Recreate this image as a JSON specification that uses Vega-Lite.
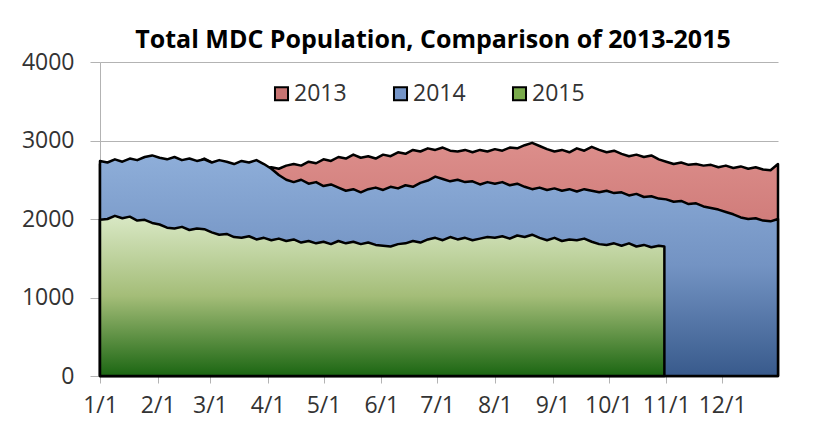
{
  "$schema": "https://vega.github.io/schema/vega-lite/v6.json",
  "width": 678,
  "height": 314,
  "autosize": {"type": "none"},
  "padding": {"left": 100, "top": 62, "right": 44, "bottom": 49},
  "background": "white",
  "title": {"text": "Total MDC Population, Comparison of 2013-2015", "font": "Open Sans", "fontSize": 25, "fontWeight": "bold", "color": "#000000", "anchor": "middle", "offset": -2, "dx": -6},
  "datasets": {
    "pop": [
      {"series":"2013","day":1,"value":2700},{"series":"2013","day":5,"value":2680},{"series":"2013","day":9,"value":2720},{"series":"2013","day":13,"value":2690},{"series":"2013","day":17,"value":2720},{"series":"2013","day":21,"value":2700},{"series":"2013","day":25,"value":2740},{"series":"2013","day":29,"value":2760},{"series":"2013","day":33,"value":2730},{"series":"2013","day":37,"value":2710},{"series":"2013","day":41,"value":2740},{"series":"2013","day":45,"value":2700},{"series":"2013","day":49,"value":2730},{"series":"2013","day":53,"value":2720},{"series":"2013","day":57,"value":2770},{"series":"2013","day":61,"value":2720},{"series":"2013","day":65,"value":2700},{"series":"2013","day":69,"value":2690},{"series":"2013","day":73,"value":2660},{"series":"2013","day":77,"value":2700},{"series":"2013","day":81,"value":2680},{"series":"2013","day":85,"value":2700},{"series":"2013","day":89,"value":2650},{"series":"2013","day":93,"value":2660},{"series":"2013","day":97,"value":2640},{"series":"2013","day":101,"value":2680},{"series":"2013","day":105,"value":2700},{"series":"2013","day":109,"value":2680},{"series":"2013","day":113,"value":2730},{"series":"2013","day":117,"value":2710},{"series":"2013","day":121,"value":2760},{"series":"2013","day":125,"value":2740},{"series":"2013","day":129,"value":2790},{"series":"2013","day":133,"value":2770},{"series":"2013","day":137,"value":2820},{"series":"2013","day":141,"value":2780},{"series":"2013","day":145,"value":2800},{"series":"2013","day":149,"value":2770},{"series":"2013","day":153,"value":2820},{"series":"2013","day":157,"value":2800},{"series":"2013","day":161,"value":2850},{"series":"2013","day":165,"value":2830},{"series":"2013","day":169,"value":2880},{"series":"2013","day":173,"value":2860},{"series":"2013","day":177,"value":2900},{"series":"2013","day":181,"value":2880},{"series":"2013","day":185,"value":2910},{"series":"2013","day":189,"value":2870},{"series":"2013","day":193,"value":2860},{"series":"2013","day":197,"value":2880},{"series":"2013","day":201,"value":2850},{"series":"2013","day":205,"value":2880},{"series":"2013","day":209,"value":2860},{"series":"2013","day":213,"value":2890},{"series":"2013","day":217,"value":2870},{"series":"2013","day":221,"value":2910},{"series":"2013","day":225,"value":2900},{"series":"2013","day":229,"value":2940},{"series":"2013","day":233,"value":2970},{"series":"2013","day":237,"value":2930},{"series":"2013","day":241,"value":2890},{"series":"2013","day":245,"value":2860},{"series":"2013","day":249,"value":2880},{"series":"2013","day":253,"value":2850},{"series":"2013","day":257,"value":2900},{"series":"2013","day":261,"value":2870},{"series":"2013","day":265,"value":2920},{"series":"2013","day":269,"value":2880},{"series":"2013","day":273,"value":2850},{"series":"2013","day":277,"value":2870},{"series":"2013","day":281,"value":2830},{"series":"2013","day":285,"value":2800},{"series":"2013","day":289,"value":2820},{"series":"2013","day":293,"value":2790},{"series":"2013","day":297,"value":2810},{"series":"2013","day":301,"value":2760},{"series":"2013","day":305,"value":2730},{"series":"2013","day":309,"value":2700},{"series":"2013","day":313,"value":2720},{"series":"2013","day":317,"value":2690},{"series":"2013","day":321,"value":2700},{"series":"2013","day":325,"value":2680},{"series":"2013","day":329,"value":2690},{"series":"2013","day":333,"value":2660},{"series":"2013","day":337,"value":2680},{"series":"2013","day":341,"value":2650},{"series":"2013","day":345,"value":2670},{"series":"2013","day":349,"value":2640},{"series":"2013","day":353,"value":2660},{"series":"2013","day":357,"value":2630},{"series":"2013","day":361,"value":2620},{"series":"2013","day":365,"value":2700},
      {"series":"2014","day":1,"value":2740},{"series":"2014","day":5,"value":2720},{"series":"2014","day":9,"value":2760},{"series":"2014","day":13,"value":2730},{"series":"2014","day":17,"value":2770},{"series":"2014","day":21,"value":2750},{"series":"2014","day":25,"value":2790},{"series":"2014","day":29,"value":2810},{"series":"2014","day":33,"value":2780},{"series":"2014","day":37,"value":2760},{"series":"2014","day":41,"value":2790},{"series":"2014","day":45,"value":2750},{"series":"2014","day":49,"value":2770},{"series":"2014","day":53,"value":2740},{"series":"2014","day":57,"value":2760},{"series":"2014","day":61,"value":2720},{"series":"2014","day":65,"value":2750},{"series":"2014","day":69,"value":2730},{"series":"2014","day":73,"value":2700},{"series":"2014","day":77,"value":2740},{"series":"2014","day":81,"value":2720},{"series":"2014","day":85,"value":2750},{"series":"2014","day":89,"value":2700},{"series":"2014","day":93,"value":2640},{"series":"2014","day":97,"value":2560},{"series":"2014","day":101,"value":2500},{"series":"2014","day":105,"value":2470},{"series":"2014","day":109,"value":2500},{"series":"2014","day":113,"value":2450},{"series":"2014","day":117,"value":2470},{"series":"2014","day":121,"value":2420},{"series":"2014","day":125,"value":2440},{"series":"2014","day":129,"value":2400},{"series":"2014","day":133,"value":2360},{"series":"2014","day":137,"value":2380},{"series":"2014","day":141,"value":2340},{"series":"2014","day":145,"value":2380},{"series":"2014","day":149,"value":2400},{"series":"2014","day":153,"value":2370},{"series":"2014","day":157,"value":2410},{"series":"2014","day":161,"value":2390},{"series":"2014","day":165,"value":2430},{"series":"2014","day":169,"value":2410},{"series":"2014","day":173,"value":2460},{"series":"2014","day":177,"value":2490},{"series":"2014","day":181,"value":2540},{"series":"2014","day":185,"value":2510},{"series":"2014","day":189,"value":2480},{"series":"2014","day":193,"value":2500},{"series":"2014","day":197,"value":2470},{"series":"2014","day":201,"value":2480},{"series":"2014","day":205,"value":2440},{"series":"2014","day":209,"value":2470},{"series":"2014","day":213,"value":2450},{"series":"2014","day":217,"value":2470},{"series":"2014","day":221,"value":2430},{"series":"2014","day":225,"value":2450},{"series":"2014","day":229,"value":2410},{"series":"2014","day":233,"value":2380},{"series":"2014","day":237,"value":2400},{"series":"2014","day":241,"value":2370},{"series":"2014","day":245,"value":2390},{"series":"2014","day":249,"value":2360},{"series":"2014","day":253,"value":2380},{"series":"2014","day":257,"value":2350},{"series":"2014","day":261,"value":2380},{"series":"2014","day":265,"value":2360},{"series":"2014","day":269,"value":2340},{"series":"2014","day":273,"value":2360},{"series":"2014","day":277,"value":2330},{"series":"2014","day":281,"value":2340},{"series":"2014","day":285,"value":2300},{"series":"2014","day":289,"value":2320},{"series":"2014","day":293,"value":2280},{"series":"2014","day":297,"value":2290},{"series":"2014","day":301,"value":2260},{"series":"2014","day":305,"value":2250},{"series":"2014","day":309,"value":2220},{"series":"2014","day":313,"value":2230},{"series":"2014","day":317,"value":2190},{"series":"2014","day":321,"value":2200},{"series":"2014","day":325,"value":2160},{"series":"2014","day":329,"value":2140},{"series":"2014","day":333,"value":2120},{"series":"2014","day":337,"value":2090},{"series":"2014","day":341,"value":2060},{"series":"2014","day":345,"value":2020},{"series":"2014","day":349,"value":2000},{"series":"2014","day":353,"value":2010},{"series":"2014","day":357,"value":1980},{"series":"2014","day":361,"value":1970},{"series":"2014","day":365,"value":2000},
      {"series":"2015","day":1,"value":1990},{"series":"2015","day":5,"value":2000},{"series":"2015","day":9,"value":2040},{"series":"2015","day":13,"value":2010},{"series":"2015","day":17,"value":2030},{"series":"2015","day":21,"value":1980},{"series":"2015","day":25,"value":1990},{"series":"2015","day":29,"value":1950},{"series":"2015","day":33,"value":1930},{"series":"2015","day":37,"value":1890},{"series":"2015","day":41,"value":1880},{"series":"2015","day":45,"value":1900},{"series":"2015","day":49,"value":1860},{"series":"2015","day":53,"value":1880},{"series":"2015","day":57,"value":1870},{"series":"2015","day":61,"value":1830},{"series":"2015","day":65,"value":1800},{"series":"2015","day":69,"value":1810},{"series":"2015","day":73,"value":1770},{"series":"2015","day":77,"value":1760},{"series":"2015","day":81,"value":1780},{"series":"2015","day":85,"value":1740},{"series":"2015","day":89,"value":1760},{"series":"2015","day":93,"value":1730},{"series":"2015","day":97,"value":1750},{"series":"2015","day":101,"value":1720},{"series":"2015","day":105,"value":1740},{"series":"2015","day":109,"value":1700},{"series":"2015","day":113,"value":1720},{"series":"2015","day":117,"value":1690},{"series":"2015","day":121,"value":1710},{"series":"2015","day":125,"value":1680},{"series":"2015","day":129,"value":1720},{"series":"2015","day":133,"value":1690},{"series":"2015","day":137,"value":1710},{"series":"2015","day":141,"value":1680},{"series":"2015","day":145,"value":1700},{"series":"2015","day":149,"value":1670},{"series":"2015","day":153,"value":1660},{"series":"2015","day":157,"value":1650},{"series":"2015","day":161,"value":1680},{"series":"2015","day":165,"value":1690},{"series":"2015","day":169,"value":1720},{"series":"2015","day":173,"value":1700},{"series":"2015","day":177,"value":1740},{"series":"2015","day":181,"value":1760},{"series":"2015","day":185,"value":1730},{"series":"2015","day":189,"value":1770},{"series":"2015","day":193,"value":1740},{"series":"2015","day":197,"value":1760},{"series":"2015","day":201,"value":1730},{"series":"2015","day":205,"value":1750},{"series":"2015","day":209,"value":1770},{"series":"2015","day":213,"value":1760},{"series":"2015","day":217,"value":1780},{"series":"2015","day":221,"value":1750},{"series":"2015","day":225,"value":1790},{"series":"2015","day":229,"value":1770},{"series":"2015","day":233,"value":1800},{"series":"2015","day":237,"value":1760},{"series":"2015","day":241,"value":1730},{"series":"2015","day":245,"value":1760},{"series":"2015","day":249,"value":1720},{"series":"2015","day":253,"value":1740},{"series":"2015","day":257,"value":1730},{"series":"2015","day":261,"value":1750},{"series":"2015","day":265,"value":1710},{"series":"2015","day":269,"value":1680},{"series":"2015","day":273,"value":1670},{"series":"2015","day":277,"value":1690},{"series":"2015","day":281,"value":1660},{"series":"2015","day":285,"value":1690},{"series":"2015","day":289,"value":1650},{"series":"2015","day":293,"value":1670},{"series":"2015","day":297,"value":1640},{"series":"2015","day":301,"value":1660},{"series":"2015","day":304,"value":1650}
    ]
  },
  "data": {"name": "pop"},
  "encoding": {
    "x": {
      "field": "day", "type": "quantitative",
      "scale": {"domain": [1, 365], "nice": false, "zero": false},
      "axis": {
        "title": null, "grid": false,
        "values": [1, 32, 60, 91, 121, 152, 182, 213, 244, 274, 305, 335],
        "labelExpr": "timeFormat(datetime(2013, 0, datum.value), '%-m/%-d')",
        "labelFlush": false, "labelOverlap": false,
        "tickSize": 7, "tickColor": "#b3b3b3", "domainColor": "#b3b3b3",
        "labelFont": "Open Sans", "labelFontSize": 23, "labelColor": "#333333", "labelPadding": 11
      }
    },
    "y": {
      "field": "value", "type": "quantitative",
      "scale": {"domain": [0, 4000], "nice": false},
      "axis": {
        "title": null, "values": [0, 1000, 2000, 3000, 4000], "format": "d",
        "grid": true, "gridColor": "#b3b3b3", "tickColor": "#b3b3b3", "tickSize": 10,
        "domainColor": "#b3b3b3",
        "labelFont": "Open Sans", "labelFontSize": 23, "labelColor": "#333333", "labelPadding": 16
      }
    }
  },
  "layer": [
    {
      "transform": [{"filter": "datum.series == '2013'"}],
      "mark": {"type": "area", "stroke": "black", "strokeWidth": 2.5, "strokeJoin": "round",
        "fill": {"gradient": "linear", "x1": 0, "y1": 0, "x2": 0, "y2": 1,
          "stops": [{"offset": 0, "color": "#dc8e8b"}, {"offset": 0.35, "color": "#d07c7a"}, {"offset": 1, "color": "#9d3835"}]}}
    },
    {
      "transform": [{"filter": "datum.series == '2014'"}],
      "mark": {"type": "area", "stroke": "black", "strokeWidth": 2.5, "strokeJoin": "round",
        "fill": {"gradient": "linear", "x1": 0, "y1": 0, "x2": 0, "y2": 1,
          "stops": [{"offset": 0, "color": "#8eaed9"}, {"offset": 0.5, "color": "#7393c3"}, {"offset": 1, "color": "#385a8c"}]}}
    },
    {
      "transform": [{"filter": "datum.series == '2015'"}],
      "mark": {"type": "area", "stroke": "black", "strokeWidth": 2.5, "strokeJoin": "round",
        "fill": {"gradient": "linear", "x1": 0, "y1": 0, "x2": 0, "y2": 1,
          "stops": [{"offset": 0, "color": "#d9e8c5"}, {"offset": 0.5, "color": "#a4bd78"}, {"offset": 1, "color": "#1b6612"}]}}
    },
    {
      "mark": {"type": "point", "shape": "square", "filled": true, "opacity": 0},
      "encoding": {
        "color": {
          "field": "series", "type": "nominal",
          "scale": {"domain": ["2013", "2014", "2015"], "range": ["#c87472", "#7595c8", "#7aab4c"]},
          "legend": {
            "orient": "none", "legendX": 170, "legendY": 20, "direction": "horizontal", "title": null,
            "symbolType": "square", "symbolSize": 170, "symbolStrokeColor": "black", "symbolStrokeWidth": 2,
            "symbolOpacity": 1, "labelFont": "Open Sans", "labelFontSize": 23, "labelColor": "#333333",
            "columnPadding": 42, "labelOffset": 1
          }
        }
      }
    }
  ],
  "config": {"view": {"stroke": null}}
}
